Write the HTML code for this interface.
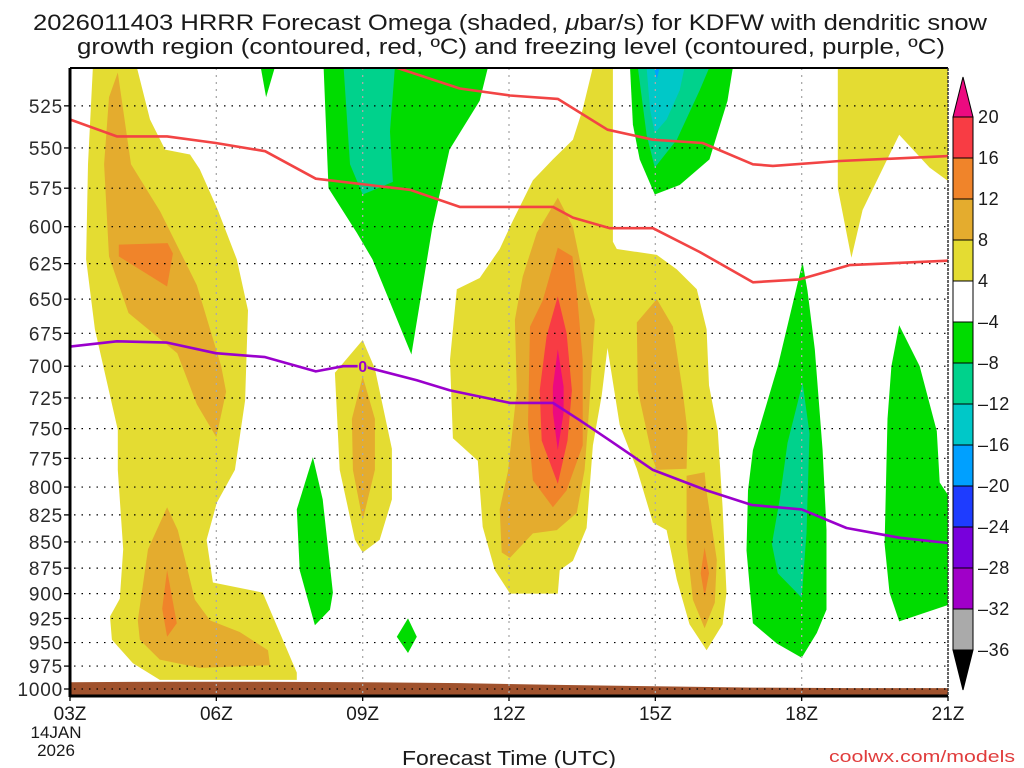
<!DOCTYPE html>
<html><head><meta charset="utf-8"><title>HRRR Omega KDFW</title>
<style>html,body{margin:0;padding:0;background:#fff}svg{display:block}text{font-family:"Liberation Sans",sans-serif}</style>
</head><body>
<svg id="chart" width="1024" height="768" viewBox="0 0 1024 768" xmlns="http://www.w3.org/2000/svg">
<defs><clipPath id="plotclip"><rect x="70" y="68" width="878" height="628"/></clipPath></defs>
<text x="510" y="30" font-size="22" text-anchor="middle" fill="#1a1a1a" textLength="954" lengthAdjust="spacingAndGlyphs">2026011403 HRRR Forecast Omega (shaded, <tspan font-style="italic">μ</tspan>bar/s) for KDFW with dendritic snow</text>
<text x="511" y="54" font-size="22" text-anchor="middle" fill="#1a1a1a" textLength="868" lengthAdjust="spacingAndGlyphs">growth region (contoured, red, ºC) and freezing level (contoured, purple, ºC)</text>
<g id="fills" clip-path="url(#plotclip)"></g>
<g id="grid"></g>
<g id="lines" clip-path="url(#plotclip)"></g>
<g id="axes"></g>
<g id="cbar"></g>
<text x="509" y="765" font-size="20" text-anchor="middle" fill="#1a1a1a" textLength="214" lengthAdjust="spacingAndGlyphs">Forecast Time (UTC)</text>
<text x="1015" y="762" font-size="17" text-anchor="end" fill="#e03c3c" textLength="186" lengthAdjust="spacingAndGlyphs">coolwx.com/models</text>
</svg>
<script>
// ---- data ----
const xTickHours = [0, 3, 6, 9, 12, 15, 18];
const xTickLabels = ["03Z", "06Z", "09Z", "12Z", "15Z", "18Z", "21Z"];
const pTicks = [525,550,575,600,625,650,675,700,725,750,775,800,825,850,875,900,925,950,975,1000];
const cbLevels = [20,16,12,8,4,-4,-8,-12,-16,-20,-24,-28,-32,-36];
const cbColors = ["#f83c44","#f0842a","#e4ac2e","#e4dc32","#ffffff","#00dc00","#00d28c","#00c8c8","#00a0ff","#1e3cff","#7800dc","#a000c8","#aaaaaa"];
const surfaceHours = [0,2,4,6,8,10,12,14,16,18];
const surfacePres = [992.5,992,992,992.5,993.5,995.5,997,998.5,999,999];
// omega contour polygons: [hour since 03Z, pressure hPa]
const yellowA = [[0.47,503],[0.37,560],[0.33,622],[0.51,672],[0.98,751],[0.98,785],[1.09,857],[1.02,905],[0.82,923],[0.86,947],[1.29,972],[1.84,990],[4.65,990],[4.65,982],[3.95,899],[2.93,889],[2.8,848],[3.01,814],[3.38,785],[3.59,727],[3.65,658],[3.42,622],[3.03,589],[2.66,563],[2.46,554],[1.95,551],[1.64,533],[1.37,503]];
const orangeA1 = [[0.98,506],[1.25,560],[1.85,590],[2.6,640],[3.1,700],[3.2,720],[3.0,757],[2.6,730],[2.2,690],[1.2,660],[0.8,620],[0.7,560],[0.8,520]];
const darkA1 = [[1.0,612],[2.0,611],[2.11,618],[1.99,641],[1.0,620]];
const orangeA2 = [[1.99,818],[1.6,857],[1.39,927],[1.43,947],[1.84,968],[2.66,977],[4.1,974],[4.06,958],[3.48,939],[2.87,927],[2.56,906],[2.36,867],[2.21,839]];
const darkA2 = [[1.99,877],[2.19,930],[1.99,944],[1.89,915]];
const greenB1 = [[3.91,503],[4.2,503],[4.02,520]];
const greenB = [[5.2,503],[5.3,575],[5.88,604],[6.2,622],[7.0,691],[7.43,600],[7.78,551],[8.4,522],[8.57,503]];
const tealB = [[5.61,503],[5.74,560],[6.0,579],[6.62,571],[6.56,540],[6.66,503]];
const yellowC = [[6.0,680],[5.43,705],[5.53,785],[5.84,848],[6.0,860],[6.35,848],[6.6,811],[6.6,767],[6.25,702]];
const orangeC = [[6.0,708],[5.78,742],[5.8,785],[6.0,830],[6.25,785],[6.25,742]];
const greenD = [[4.98,774],[4.65,820],[4.71,877],[5.02,932],[5.33,916],[5.39,899],[5.18,811]];
const greenD2 = [[6.7,944],[6.93,925],[7.11,944],[6.93,961]];
const yellowE = [[10.72,503],[11.13,503],[11.13,610],[11.21,615],[12.03,619],[12.44,629],[12.85,643],[13.05,672],[13.1,715],[13.28,752],[13.38,818],[13.46,899],[13.38,931],[13.05,958],[12.7,931],[12.44,886],[12.23,839],[11.95,832],[11.62,784],[11.27,747],[11.02,686],[10.9,723],[10.72,764],[10.59,837],[10.31,868],[10.04,877],[10.0,900],[9.02,900],[8.71,877],[8.46,836],[8.36,777],[7.85,758],[7.79,695],[7.93,643],[8.4,635],[8.81,615],[9.08,596],[9.49,570],[9.9,557],[10.31,545],[10.51,527]];
const orangeE = [[10.0,581],[9.57,604],[9.28,634],[9.12,665],[9.16,719],[8.98,786],[8.81,820],[8.85,860],[9.02,865],[9.49,842],[9.98,839],[10.39,823],[10.55,785],[10.62,747],[10.76,665],[10.59,645],[10.31,600]];
const darkE = [[10.0,614],[9.69,651],[9.43,670],[9.39,747],[9.49,794],[9.9,818],[10.18,803],[10.51,764],[10.51,695],[10.39,645],[10.3,620]];
const redE = [[10.0,648],[9.77,677],[9.63,719],[9.67,760],[10.0,797],[10.2,760],[10.29,719],[10.18,675]];
const magentaE = [[10.0,687],[9.9,716],[9.9,737],[10.0,768],[10.12,737],[10.12,716]];
const orangeF1 = [[12.03,650],[11.62,667],[11.64,719],[11.95,776],[12.03,785],[12.64,784],[12.66,752],[12.56,719],[12.36,670]];
const orangeF2 = [[12.64,790],[13.01,787],[13.05,804],[13.26,867],[13.22,909],[13.01,935],[12.77,906],[12.64,851]];
const darkF = [[13.01,855],[13.1,880],[13.01,903],[12.93,880]];
const greenG = [[11.48,503],[11.54,536],[11.68,557],[11.99,579],[12.5,573],[13.11,557],[13.48,522],[13.59,503]];
const tealG = [[11.64,503],[11.82,542],[11.99,562],[12.44,545],[12.91,516],[13.11,503]];
const cyanG = [[11.82,503],[11.89,527],[11.99,541],[12.23,533],[12.5,516],[12.6,503]];
const blueG = [[11.97,503],[12.09,503],[12.03,510]];
const yellowH = [[15.74,503],[15.74,575],[16.02,621],[16.25,589],[17.0,542],[17.62,562],[18.2,575],[18.2,503]];
const greenI = [[15.02,624],[14.51,700],[14.0,768],[13.9,803],[13.87,858],[14.0,930],[14.49,951],[15.0,966],[15.31,940],[15.51,916],[15.51,839],[15.43,768],[15.27,687],[15.12,644]];
const tealI = [[15.02,713],[14.71,762],[14.55,811],[14.39,852],[14.51,880],[15.0,904],[15.1,842],[15.16,754]];
const greenJ = [[17.0,669],[17.42,700],[17.77,752],[17.83,796],[18.2,820],[18.2,908],[17.0,928],[16.8,899],[16.7,852],[16.76,742],[16.84,700]];
// contour lines
const redUpper = [[6.66,503],[7.99,515],[9.02,519],[10.0,521],[11.02,539],[11.95,545],[12.97,547],[14.0,560],[14.41,561],[15.78,558],[18,555]];
const redLower = [[0,533],[0.96,543],[1.99,543],[2.99,547],[4.0,552],[5.04,569],[6.97,576],[7.99,587],[9.02,587],[9.9,587],[10.31,594],[11.07,601],[11.95,601],[12.91,617],[14.0,638],[14.96,636],[15.98,626],[18,623]];
const freezing = [[0,685],[0.96,681],[1.99,682],[2.99,690],[4.0,693],[5.04,704],[5.6,700],[6.0,700],[7.11,711],[7.79,719],[9.02,729],[9.9,729],[10.45,743],[11.07,760],[11.95,785],[13.05,803],[13.98,816],[15.0,820],[15.92,837],[17.0,846],[18,851]];
const freezingLabelPos = [6.0, 700];

// ---- scales ----
const X0 = 70, X1 = 948, Y0 = 68, Y1 = 696;
function xs(h){ return X0 + h * (X1 - X0) / 18; }
function ys(p){ return 689 - 905 * Math.log(1000 / p); }
const NS = "http://www.w3.org/2000/svg";
function mk(tag, parent, attrs){ const e = document.createElementNS(NS, tag); for (const k in attrs) e.setAttribute(k, attrs[k]); parent.appendChild(e); return e; }
function pts(arr){ return arr.map(d => xs(d[0]).toFixed(1) + "," + ys(d[1]).toFixed(1)).join(" "); }

const fills = document.getElementById("fills");
const Y = "#e4dc32", O1 = "#e4ac2e", O2 = "#f0842a", R = "#f83c44", M = "#ec0a80", G = "#00dc00", T = "#00d28c", C = "#00c8c8", B = "#00a0ff";
const shapes = [
  [yellowA,Y,"omega-yellow-early"],[orangeA1,O1,"omega-orange-early-upper"],[darkA1,O2,"omega-dark-orange-early-upper"],
  [orangeA2,O1,"omega-orange-early-lower"],[darkA2,O2,"omega-dark-orange-early-lower"],
  [greenB1,G,"omega-green-small-top"],[greenB,G,"omega-green-0900"],[tealB,T,"omega-teal-0900"],
  [yellowC,Y,"omega-yellow-0900"],[orangeC,O1,"omega-orange-0900"],[greenD,G,"omega-green-0800"],[greenD2,G,"omega-green-diamond"],
  [yellowE,Y,"omega-yellow-1300"],[orangeE,O1,"omega-orange-1300"],[darkE,O2,"omega-dark-orange-1300"],[redE,R,"omega-red-1300"],[magentaE,M,"omega-magenta-1300"],
  [orangeF1,O1,"omega-orange-1500"],[orangeF2,O1,"omega-orange-1600"],[darkF,O2,"omega-dark-orange-1600"],
  [greenG,G,"omega-green-1500-top"],[tealG,T,"omega-teal-1500-top"],[cyanG,C,"omega-cyan-1500-top"],[blueG,B,"omega-blue-1500-top"],
  [yellowH,Y,"omega-yellow-2000-top"],[greenI,G,"omega-green-1800"],[tealI,T,"omega-teal-1800"],[greenJ,G,"omega-green-2000"]
];
shapes.forEach(s => {
  const el = mk("polygon", fills, {points: pts(s[0]), fill: s[1]});
  
  
});
// terrain
{
  let d = "M" + xs(0) + "," + Y1;
  surfaceHours.forEach((h,i) => { d += " L" + xs(h).toFixed(1) + "," + ys(surfacePres[i]).toFixed(1); });
  d += " L" + xs(18) + "," + Y1 + " Z";
  const t = mk("path", fills, {d: d, fill: "#a0522d"});
  
  
}
// grid
const grid = document.getElementById("grid");
pTicks.forEach(p => {
  const l = mk("line", grid, {x1: X0+4, x2: X1-2, y1: ys(p), y2: ys(p), stroke: "#000", "stroke-width": 1.2, "stroke-dasharray": "1.5,6"});
  
  
});
xTickHours.slice(1, -1).forEach(h => {
  const l = mk("line", grid, {x1: xs(h), x2: xs(h), y1: Y0, y2: Y1, stroke: "#aaa", "stroke-width": 1.3, "stroke-dasharray": "2,5"});
  
  
});
// contour lines
const lines = document.getElementById("lines");
[[redUpper,"#f24444","dgz-upper-contour"],[redLower,"#f24444","dgz-lower-contour"],[freezing,"#9a00cc","freezing-level-contour"]].forEach(s => {
  const l = mk("polyline", lines, {points: pts(s[0]), fill: "none", stroke: s[1], "stroke-width": 2.6, "stroke-linejoin": "round"});
  
  
});
{
  const lx = xs(freezingLabelPos[0]), ly = ys(freezingLabelPos[1]);
  const bg = mk("rect", lines, {x: lx-5, y: ly-8, width: 10, height: 16, fill: "#e4dc32"});
  
  
  const t = mk("text", lines, {x: lx, y: ly+6, "font-size": 16, "text-anchor": "middle", fill: "#9a00cc", "font-weight": "bold"});
  t.textContent = "0";
  
  
}
// axes
const axes = document.getElementById("axes");
mk("line", axes, {x1: X0, x2: X1, y1: Y0, y2: Y0, stroke: "#000", "stroke-width": 2});
mk("line", axes, {x1: X0, x2: X0, y1: Y0, y2: Y1+1, stroke: "#000", "stroke-width": 3});
mk("line", axes, {x1: X0, x2: X1, y1: Y1, y2: Y1, stroke: "#000", "stroke-width": 3});
mk("line", axes, {x1: X1, x2: X1, y1: Y0, y2: Y1, stroke: "#333", "stroke-width": 1.5, "stroke-dasharray": "3,1"});
pTicks.forEach(p => {
  mk("line", axes, {x1: X0-6, x2: X0, y1: ys(p), y2: ys(p), stroke: "#000", "stroke-width": 1.3});
  const t = mk("text", axes, {x: X0-7, y: ys(p)+7, "font-size": 19, "text-anchor": "end", fill: "#2a2a2a", "letter-spacing": "0.8"});
  t.textContent = p;
  
  
});
xTickHours.forEach((h,i) => {
  mk("line", axes, {x1: xs(h), x2: xs(h), y1: Y1, y2: Y1+5, stroke: "#000", "stroke-width": 1.3});
  const t = mk("text", axes, {x: xs(h), y: 720, "font-size": 19, "text-anchor": "middle", fill: "#1a1a1a"});
  t.textContent = xTickLabels[i];
  
  
});
{
  const a = mk("text", axes, {x: 56, y: 738, "font-size": 17, "text-anchor": "middle", fill: "#1a1a1a"}); a.textContent = "14JAN";
  
  
  const b = mk("text", axes, {x: 56, y: 756, "font-size": 17, "text-anchor": "middle", fill: "#1a1a1a"}); b.textContent = "2026";
  
  
}
// colorbar
const cb = document.getElementById("cbar");
const CBX = 953, CBW = 20, CBTOP = 117, CBH = 41;
function cby(i){ return CBTOP + i * CBH; }
{
  const tri = mk("polygon", cb, {points: `${CBX},${cby(0)} ${CBX+CBW},${cby(0)} ${CBX+CBW/2},${cby(0)-40}`, fill: "#ec0a80", stroke: "#000", "stroke-width": 1});
  
  
}
cbColors.forEach((c,i) => {
  const r = mk("rect", cb, {x: CBX, y: cby(i), width: CBW, height: CBH, fill: c, stroke: "#000", "stroke-width": 1});
  
  
});
{
  const n = cbLevels.length - 1;
  const tri = mk("polygon", cb, {points: `${CBX},${cby(n)} ${CBX+CBW},${cby(n)} ${CBX+CBW/2},${cby(n)+40}`, fill: "#000", stroke: "#000", "stroke-width": 1});
  
  
}
cbLevels.forEach((v,i) => {
  const t = mk("text", cb, {x: 978, y: cby(i)+6, "font-size": 18, fill: "#1a1a1a", "letter-spacing": "0.6"});
  t.textContent = v < 0 ? "\u2013" + Math.abs(v) : String(v);
  
  
});
</script>
</body></html>
